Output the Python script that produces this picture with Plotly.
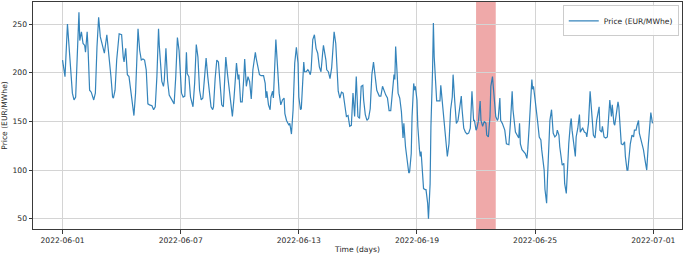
import pandas as pd
import plotly.graph_objects as go

start = "2022-06-01"
series_name = "Price (EUR/MWhe)"

# hour offsets from 2022-06-01 00:00 and the price read at that hour
hours = [0, 3, 6, 8, 10, 12, 14, 16, 20, 21, 23, 25, 27, 28, 30, 31, 33, 35, 38, 40,
         42, 44, 46, 49, 51, 54, 56, 59, 61, 62, 64, 66, 69, 72, 74, 75, 77, 79, 81, 83,
         85, 87, 89, 91, 92, 94, 96, 98, 100,
         102, 104, 106, 109, 111, 113, 115, 117, 118, 121, 123, 124, 126, 128, 130, 132,
         134, 136, 138, 140, 142, 143, 145, 147, 149, 151, 152, 154, 156, 159, 161, 163,
         165, 167, 169, 171, 173, 175, 177, 179, 181, 183, 184, 186, 188, 190, 192, 194,
         196, 197, 199, 201, 203, 205, 207, 209,
         212, 214, 215, 217, 219, 221, 222, 224, 226, 228, 230, 232, 235, 236, 238, 240,
         242, 245, 247, 248, 249, 251, 253, 254, 256, 257, 260, 262, 264, 266, 268, 270,
         271, 273, 276, 277, 279, 281, 283, 285, 287, 288, 290, 291, 293, 294, 295, 297,
         299, 300, 302, 303, 305, 307, 309, 311, 313, 315, 317, 318,
         321, 322, 324, 326, 328, 330, 331, 333, 335, 336, 338, 340, 342, 344, 346, 348,
         350, 352, 354, 356, 358, 360, 362, 364, 366, 367, 369, 371, 373, 375, 377, 379,
         381, 383, 386, 388, 390, 392, 394, 396, 398, 400, 402, 404, 405, 406, 408, 409,
         411, 413, 415, 416, 418, 420, 422, 423, 425, 426, 428,
         429, 430, 432, 433, 435, 436, 437, 439, 440, 442, 443, 445, 446, 448, 449, 451,
         452, 453, 455, 456, 458, 460, 461, 463, 465, 467, 469, 471, 473, 475, 476, 478,
         479, 480, 482, 484, 486, 487, 489, 491, 493, 495, 497, 498, 499, 501, 502, 504,
         505, 507, 509, 510, 512, 514, 516, 517, 519, 521, 522, 524, 525, 526, 528, 530,
         531, 533, 534, 536,
         539, 541, 543, 544, 546, 548, 549, 551, 552, 554, 556, 557, 558, 560, 562, 564,
         566, 567, 569, 571, 572, 573, 574, 576, 577, 579, 581, 583, 584, 586, 587, 588,
         590, 591, 593, 594, 596, 597, 598, 600, 602, 603, 605, 606, 608, 609, 611, 612,
         614, 615, 617, 619, 620, 621, 623, 625, 626, 628, 630, 631, 633, 634, 636, 638,
         639, 641, 643, 645,
         647, 649, 651, 654, 655, 657, 658, 660, 662, 664, 666, 667, 669, 670, 672, 673,
         675, 677, 678, 680, 681, 683, 685, 686, 688, 689, 691, 692, 694, 696, 697, 699,
         700, 702, 703, 705, 706, 708, 710, 711, 712, 714, 716, 717, 719]

price = [213, 196, 250, 223, 207, 179, 172, 175, 262, 233, 242, 230, 228, 221, 242, 227, 182, 180, 172, 179,
         227, 257, 237, 228, 220, 239, 223, 196, 175, 174, 182, 213, 240, 239, 216, 211, 225, 198, 196, 182,
         168, 156, 179, 230, 245, 223, 213, 214, 213,
         203, 168, 167, 166, 162, 165, 196, 245, 227, 191, 186, 192, 225, 192, 177, 174,
         170, 168, 196, 236, 223, 203, 179, 175, 176, 221, 199, 196, 175, 165, 189, 229,
         216, 182, 172, 174, 196, 215, 196, 177, 165, 162, 165, 194, 213, 211, 189, 167,
         165, 186, 216, 199, 184, 172, 155, 174,
         210, 193, 198, 170, 170, 196, 214, 186, 196, 191, 173, 203, 221, 215, 206, 198,
         197, 197, 189, 174, 181, 167, 162, 175, 181, 174, 234, 203, 179, 167, 172, 174,
         158, 151, 146, 148, 137, 162, 210, 226, 210, 175, 162, 163, 189, 211, 201, 201,
         203, 202, 198, 203, 234, 239, 225, 220, 206, 201, 220, 228,
         213, 203, 201, 194, 205, 227, 242, 230, 196, 181, 174, 180, 179, 165, 155, 156,
         145, 146, 179, 155, 196, 155, 153, 186, 187, 172, 157, 151, 153, 163, 198, 211,
         196, 182, 176, 176, 186, 181, 177, 174, 161, 161, 184, 198, 193, 227, 196, 179,
         174, 160, 133, 148, 124, 110, 97, 98, 117, 155, 189,
         182, 186, 172, 145, 121, 114, 119, 97, 81, 80, 80, 66, 50, 86, 145, 203,
         251, 216, 179, 171, 171, 171, 187, 169, 145, 127, 114, 127, 162, 175, 198, 171,
         162, 148, 151, 162, 176, 162, 143, 139, 137, 138, 143, 162, 181, 151, 151, 141,
         143, 151, 171, 151, 145, 150, 148, 136, 134, 155, 186, 196, 186, 174, 155, 151,
         153, 174, 151, 148,
         141, 127, 126, 126, 150, 181, 162, 148, 139, 136, 133, 148, 127, 121, 119, 117,
         112, 121, 148, 186, 193, 183, 186, 172, 162, 150, 134, 131, 121, 110, 100, 80,
         66, 90, 127, 151, 162, 148, 138, 134, 136, 141, 136, 124, 110, 105, 107, 86,
         76, 100, 127, 148, 153, 141, 127, 114, 134, 143, 157, 139, 142, 143, 139, 138,
         134, 148, 181, 162,
         136, 133, 151, 165, 141, 139, 145, 134, 133, 134, 162, 172, 155, 167, 148, 146,
         158, 170, 165, 141, 127, 126, 129, 114, 100, 100, 121, 127, 136, 134, 141, 141,
         145, 151, 138, 131, 127, 121, 110, 101, 100, 127, 155, 159, 148]

span_start = "2022-06-22"
span_end = "2022-06-23"
x_tick_labels = ["2022-06-01", "2022-06-07", "2022-06-13", "2022-06-19", "2022-06-25", "2022-07-01"]
y_tick_values = [50, 100, 150, 200, 250]

t0 = pd.Timestamp(start)
times = t0 + pd.to_timedelta(hours, unit="h")

font = dict(family="DejaVu Sans", size=7.6, color="#262626")
grid = "#d4d4d4"
spine = "#3a3a3a"

fig = go.Figure()
fig.add_trace(go.Scatter(
    x=times, y=price, mode="lines", name=series_name,
    line=dict(color="#1f77b4", width=1.2), opacity=0.9,
))
fig.add_vrect(x0=span_start, x1=span_end, fillcolor="rgba(214,39,40,0.4)",
              line_width=0, layer="below")

fig.update_layout(
    width=685, height=254,
    margin=dict(l=33, r=3, t=2, b=25),
    paper_bgcolor="white", plot_bgcolor="white",
    font=font,
    showlegend=True,
    legend=dict(x=0.995, y=0.985, xanchor="right", yanchor="top",
                bgcolor="rgba(255,255,255,0.85)", bordercolor="#cccccc", borderwidth=1,
                font=font, itemwidth=30, tracegroupgap=0),
)
fig.update_xaxes(
    range=[t0 - pd.Timedelta(hours=36), t0 + pd.Timedelta(hours=755)],
    tickvals=x_tick_labels, ticktext=x_tick_labels,
    showgrid=True, gridcolor=grid, gridwidth=1,
    showline=True, linecolor=spine, linewidth=1, mirror=True,
    ticks="outside", ticklen=3.5, tickcolor=spine, tickfont=font,
    title=dict(text="Time (days)", font=font, standoff=4),
    zeroline=False, automargin=False,
)
fig.update_yaxes(
    range=[39.5, 272.6],
    tickvals=y_tick_values,
    showgrid=True, gridcolor=grid, gridwidth=1,
    showline=True, linecolor=spine, linewidth=1, mirror=True,
    ticks="outside", ticklen=3.5, tickcolor=spine, tickfont=font,
    title=dict(text="Price (EUR/MWhe)", font=font, standoff=4),
    zeroline=False, automargin=False,
)

fig.write_html("out.html")
